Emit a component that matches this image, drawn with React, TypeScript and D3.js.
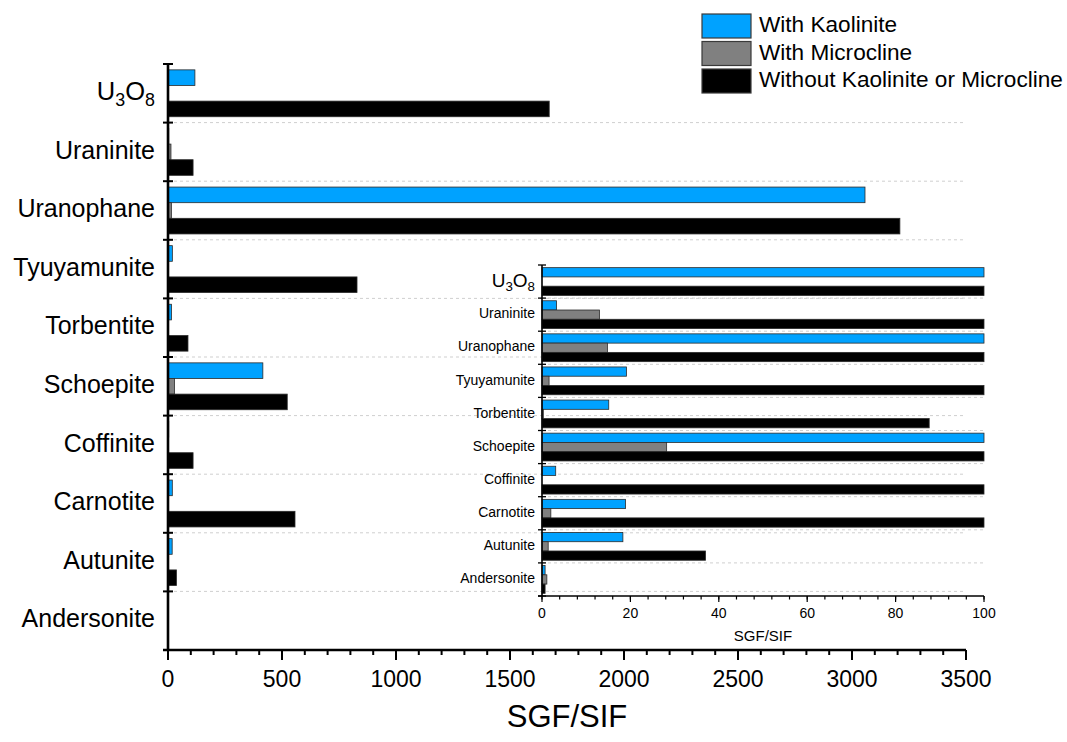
import React from "react";
import { scaleBand, scaleLinear, range } from "d3";

// minerals, top to bottom
const minerals = [
  "U3O8",
  "Uraninite",
  "Uranophane",
  "Tyuyamunite",
  "Torbentite",
  "Schoepite",
  "Coffinite",
  "Carnotite",
  "Autunite",
  "Andersonite",
];

// SGF/SIF values
const withKaolinite = [118, 3.3, 3057, 19.1, 15.1, 416, 3.1, 18.9, 18.3, 0.7];
const withMicrocline = [0, 13, 14.8, 1.6, 0.3, 28.2, 0, 2.0, 1.4, 1.1];
const withoutEither = [1672, 110, 3210, 829, 87.6, 523, 110, 557, 37, 0.7];

const seriesNames = [
  "With Kaolinite",
  "With Microcline",
  "Without Kaolinite or Microcline",
];
const seriesColors = ["#00a2ff", "#808080", "#000000"];
const seriesValues = [withKaolinite, withMicrocline, withoutEither];

const mainTicks = [0, 500, 1000, 1500, 2000, 2500, 3000, 3500];
const insetTicks = [0, 20, 40, 60, 80, 100];

const FONT = "'Liberation Sans', Arial, Helvetica, sans-serif";

function Label({ name, x, y, size }) {
  // U3O8 gets proper subscripts
  if (name === "U3O8") {
    return (
      <text x={x} y={y} fontSize={size} textAnchor="end" dominantBaseline="middle">
        U<tspan fontSize={size * 0.7} dy={size * 0.3}>3</tspan>
        <tspan dy={-size * 0.3}>O</tspan>
        <tspan fontSize={size * 0.7} dy={size * 0.3}>8</tspan>
      </text>
    );
  }
  return (
    <text x={x} y={y} fontSize={size} textAnchor="end" dominantBaseline="middle">
      {name}
    </text>
  );
}

function BarPanel({ x0, x1, y0, y1, domainMax, minorStep, ticks, pad, labelSize, uSize, tickSize, axisW, gridEnd, title, titleY, titleSize }) {
  const x = scaleLinear().domain([0, domainMax]).range([x0, x1]).clamp(true);
  const y = scaleBand().domain(minerals).range([y0, y1]).paddingInner(pad).paddingOuter(pad / 2);
  const sub = scaleBand().domain(seriesNames).range([0, y.bandwidth()]);
  const step = y.step();
  const bounds = range(minerals.length + 1).map((i) => y0 + i * step);
  const minors = range(0, domainMax + 0.001, minorStep);
  const big = axisW > 2;

  return (
    <g>
      {/* dashed grid at category boundaries */}
      {bounds.slice(1, -1).map((b, i) => (
        <line key={"g" + i} x1={x0} x2={gridEnd} y1={b} y2={b} stroke="#cfcfcf" strokeDasharray="3,3" strokeWidth={1} />
      ))}
      {minerals.map((m, i) => (
        <g key={m}>
          {seriesNames.map((s, j) => {
            const v = seriesValues[j][i];
            if (!v) return null;
            return (
              <rect
                key={s}
                x={x(0)}
                y={y(m) + sub(s)}
                width={x(v) - x(0)}
                height={sub.bandwidth()}
                fill={seriesColors[j]}
                stroke="#2b2b2b"
                strokeWidth={0.8}
              />
            );
          })}
          <Label name={m} x={x0 - (big ? 13 : 7)} y={y(m) + y.bandwidth() / 2} size={m === "U3O8" ? uSize : labelSize} />
        </g>
      ))}
      {/* y axis */}
      <line x1={x0} x2={x0} y1={y0} y2={y1} stroke="#000" strokeWidth={axisW} />
      {bounds.map((b, i) => (
        <line key={"yt" + i} x1={x0 - (big ? 5 : 4)} x2={x0 + (big ? 5 : 4)} y1={b} y2={b} stroke="#000" strokeWidth={big ? 2 : 1.3} />
      ))}
      {/* x axis */}
      <line x1={x0 - (big ? 5 : 4)} x2={x1} y1={y1} y2={y1} stroke="#000" strokeWidth={axisW} />
      {minors.map((t) => (
        <line key={"m" + t} x1={x(t)} x2={x(t)} y1={y1} y2={y1 + (big ? 5 : 3.5)} stroke="#000" strokeWidth={big ? 2 : 1.2} />
      ))}
      {ticks.map((t) => (
        <g key={"t" + t}>
          <line x1={x(t)} x2={x(t)} y1={y1} y2={y1 + (big ? 10 : 6)} stroke="#000" strokeWidth={big ? 2 : 1.2} />
          <text x={x(t)} y={y1 + (big ? 31 : 18)} fontSize={tickSize} textAnchor="middle" dominantBaseline="middle">
            {t}
          </text>
        </g>
      ))}
      <text x={(x0 + x1) / 2} y={titleY} fontSize={titleSize} textAnchor="middle" dominantBaseline="middle">
        {title}
      </text>
    </g>
  );
}

export default function App() {
  return (
    <svg
      width={1067}
      height={742}
      style={{ position: "absolute", left: 0, top: 0, background: "#fff" }}
      fontFamily={FONT}
    >
      <rect width={1067} height={742} fill="#fff" />
      <BarPanel
        x0={168}
        x1={966}
        y0={64}
        y1={650}
        domainMax={3500}
        minorStep={100}
        ticks={mainTicks}
        pad={0.2}
        labelSize={25}
        uSize={25.5}
        tickSize={23}
        axisW={2.6}
        gridEnd={963}
        title="SGF/SIF"
        titleY={719}
        titleSize={31}
      />
      <BarPanel
        x0={542}
        x1={984}
        y0={265}
        y1={596}
        domainMax={100}
        minorStep={4}
        ticks={insetTicks}
        pad={0.16}
        labelSize={14}
        uSize={19}
        tickSize={14}
        axisW={1.6}
        gridEnd={984}
        title="SGF/SIF"
        titleY={637}
        titleSize={15}
      />
      {/* legend */}
      <g>
        {seriesNames.map((s, i) => (
          <g key={s} transform={`translate(702, ${14 + i * 27.5})`}>
            <rect width={49} height={24} fill={seriesColors[i]} stroke="#3a3a3a" strokeWidth={1.2} />
            <text x={57} y={12.5} fontSize={22.6} dominantBaseline="middle">
              {s}
            </text>
          </g>
        ))}
      </g>
    </svg>
  );
}
